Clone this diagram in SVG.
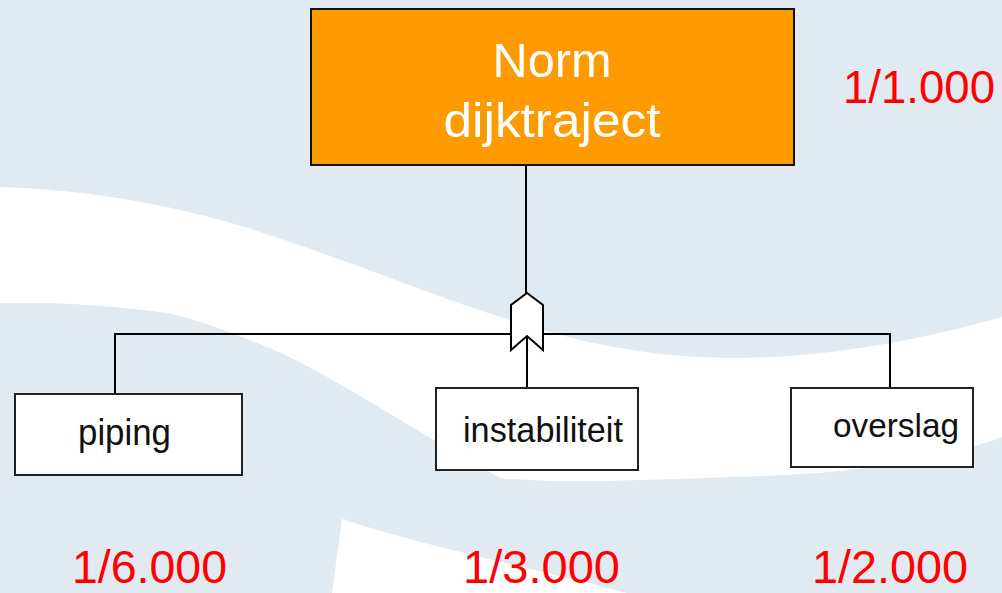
<svg xmlns="http://www.w3.org/2000/svg" width="1002" height="593" viewBox="0 0 1002 593">
  <style>
    .node { fill: #ffffff; stroke: #222222; stroke-width: 2; }
    .top { fill: #ff9b00; stroke: #111111; stroke-width: 2; }
    .lbl { font-family: "Liberation Sans", Arial, sans-serif; fill: #111111; }
    .ttl { font-family: "Liberation Sans", Arial, sans-serif; fill: #ffffff; font-size: 49px; }
    .val { font-family: "Liberation Sans", Arial, sans-serif; fill: #ff0000; font-size: 46px; }
    .wire { fill: none; stroke: #000000; stroke-width: 2; }
  </style>

  <!-- backdrop: pale blue with white waves -->
  <rect x="0" y="0" width="1002" height="593" fill="#e1eaf0"/>
  <path d="M0,187 C60,189 110,196 140,202 C210,214 270,234 333,257 C420,288 520,330 620,348 C680,358 730,360 790,356 C870,350 940,334 1002,317
           L1002,437 C940,460 860,474 733,477 C640,480 560,484 500,478 C450,450 400,420 367,400 C320,372 290,356 267,347 C230,332 200,320 167,313 C110,305 50,302 0,303 Z" fill="#ffffff"/>
  <path d="M342,519 C420,545 520,565 627,593 L332,593 Z" fill="#ffffff"/>

  <!-- connectors -->
  <g id="connectors">
    <line class="wire" x1="526" y1="160" x2="526" y2="294"/>
    <polyline class="wire" points="115,394 115,334 890,334 890,388"/>
    <line class="wire" x1="527" y1="336" x2="527" y2="388"/>
    <polygon id="or-gate" points="527,293 543,305 543,350 527,336 511,350 511,305" fill="#ffffff" stroke="#000000" stroke-width="2" stroke-linejoin="miter"/>
  </g>

  <g id="norm-dijktraject">
    <rect class="top" x="311" y="9" width="483" height="156"/>
    <text class="ttl" x="552" y="77" text-anchor="middle" textLength="119" lengthAdjust="spacingAndGlyphs">Norm</text>
    <text class="ttl" x="552" y="137" text-anchor="middle" textLength="217" lengthAdjust="spacingAndGlyphs">dijktraject</text>
  </g>

  <g id="piping">
    <rect class="node" x="15" y="394" width="227" height="81"/>
    <text class="lbl" x="78" y="445" font-size="37" textLength="93" lengthAdjust="spacingAndGlyphs">piping</text>
  </g>

  <g id="instabiliteit">
    <rect class="node" x="436" y="388" width="202" height="82"/>
    <text class="lbl" x="463" y="442" font-size="35" textLength="160" lengthAdjust="spacingAndGlyphs">instabiliteit</text>
  </g>

  <g id="overslag">
    <rect class="node" x="791" y="388" width="182" height="79"/>
    <text class="lbl" x="833" y="437" font-size="34" textLength="126" lengthAdjust="spacingAndGlyphs">overslag</text>
  </g>

  <g id="values">
    <text class="val" x="843" y="103" textLength="152" lengthAdjust="spacingAndGlyphs">1/1.000</text>
    <text class="val" x="72" y="583" textLength="155" lengthAdjust="spacingAndGlyphs">1/6.000</text>
    <text class="val" x="463" y="583" textLength="157" lengthAdjust="spacingAndGlyphs">1/3.000</text>
    <text class="val" x="812" y="583" textLength="156" lengthAdjust="spacingAndGlyphs">1/2.000</text>
  </g>
</svg>
